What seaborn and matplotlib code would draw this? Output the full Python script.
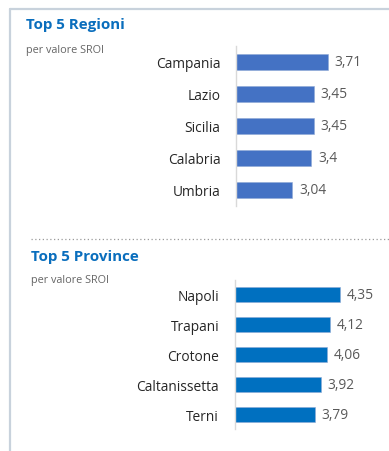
import matplotlib
matplotlib.use("Agg")
import matplotlib.pyplot as plt
from matplotlib.lines import Line2D
import seaborn as sns
import pandas as pd

# Data
regioni = ["Campania", "Lazio", "Sicilia", "Calabria", "Umbria"]
regioni_sroi = [3.71, 3.45, 3.45, 3.40, 3.04]
regioni_labels = ["3,71", "3,45", "3,45", "3,4", "3,04"]

province = ["Napoli", "Trapani", "Crotone", "Caltanissetta", "Terni"]
province_sroi = [4.35, 4.12, 4.06, 3.92, 3.79]
province_labels = ["4,35", "4,12", "4,06", "3,92", "3,79"]

sns.set_theme(style="white")
plt.rcParams["font.family"] = ["Open Sans", "DejaVu Sans"]

W, H = 389, 452
fig = plt.figure(figsize=(W / 100, H / 100), dpi=100)
fig.patch.set_facecolor("white")


def fx(px):
    return px / W


def fy(py):
    return 1 - py / H


def panel(top, bottom, left, right, cats, vals, labels, color, xmax, bar_w):
    ax = fig.add_axes([fx(left), fy(bottom), fx(right) - fx(left), (bottom - top) / H])
    df = pd.DataFrame({"cat": cats, "val": vals})
    sns.barplot(data=df, x="val", y="cat", orient="h", color=color,
                saturation=1, width=bar_w, ax=ax, edgecolor="#8FA9D6", linewidth=0.4)
    ax.set_xlim(2, xmax)
    ax.set_ylim(len(cats) - 0.5, -0.5)
    ax.set_xlabel("")
    ax.set_ylabel("")
    ax.set_xticks([])
    for s in ["top", "right", "bottom"]:
        ax.spines[s].set_visible(False)
    ax.spines["left"].set_color("#D9D9D9")
    ax.spines["left"].set_linewidth(1.0)
    ax.tick_params(axis="y", length=0, pad=11.5, labelsize=9.9, labelcolor="#262626")
    ax.bar_label(ax.containers[0], labels=labels, padding=5, fontsize=9.9, color="#595959")
    ax.set_facecolor("none")
    return ax


panel(47, 207, 236.5, 389, regioni, regioni_sroi, regioni_labels, "#4472C4", 4.86, 0.47)
panel(281, 430, 235, 389, province, province_sroi, province_labels, "#0070C0", 5.45, 0.5)

# Headings
title_kw = dict(fontsize=10.9, fontweight="bold", color="#0A6EBD", va="baseline", ha="left")
sub_kw = dict(fontsize=7.8, color="#666666", va="baseline", ha="left")
fig.text(fx(26), fy(29.5), "Top 5 Regioni", **title_kw)
fig.text(fx(26), fy(52.5), "per valore SROI", **sub_kw)
fig.text(fx(31), fy(261.5), "Top 5 Province", **title_kw)
fig.text(fx(31), fy(283.5), "per valore SROI", **sub_kw)

# Frame and separator
fig.add_artist(Line2D([fx(10), fx(389)], [fy(10), fy(10)], color="#C8D2DC", lw=1.6))
fig.add_artist(Line2D([fx(10), fx(10)], [fy(10), fy(452)], color="#C8D2DC", lw=1.6))
fig.add_artist(Line2D([fx(31), fx(389)], [fy(240), fy(240)], color="#9A9A9A",
                      lw=0.9, linestyle=(0, (1, 2))))

fig.savefig("out.png", dpi=100)
